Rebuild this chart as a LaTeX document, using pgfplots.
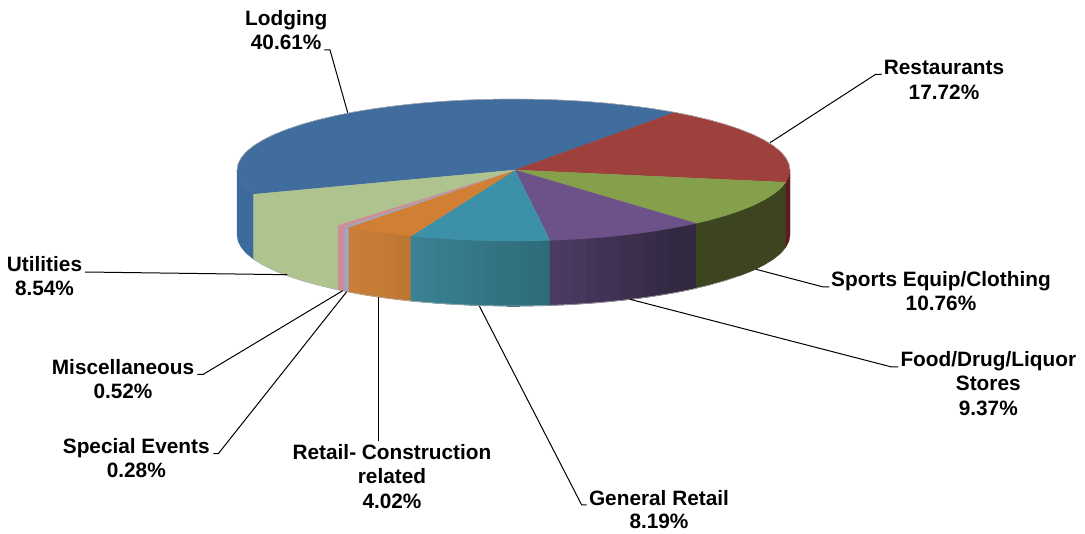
\documentclass[border=0pt]{standalone}
\usepackage{pgfplots}
\pgfplotsset{compat=1.18}
\usepackage{fontspec}
\setmainfont{Liberation Sans}
\definecolor{lodg}{HTML}{416C9E}
\definecolor{lodgs}{HTML}{3C6A9C}
\definecolor{rest}{HTML}{9E413C}
\definecolor{rests}{HTML}{5E1C1C}
\definecolor{spor}{HTML}{84A04A}
\definecolor{spors}{HTML}{3C4520}
\definecolor{food}{HTML}{6D5189}
\definecolor{foodL}{HTML}{4B3B62}
\definecolor{foodR}{HTML}{332842}
\definecolor{genr}{HTML}{3C90A8}
\definecolor{genL}{HTML}{3A8193}
\definecolor{genR}{HTML}{2D6B79}
\definecolor{reta}{HTML}{D27F36}
\definecolor{retL}{HTML}{C97D38}
\definecolor{retR}{HTML}{BC7733}
\definecolor{spec}{HTML}{9BA7C7}
\definecolor{misc}{HTML}{CC8E94}
\definecolor{util}{HTML}{AEC38E}
\newcommand{\lab}[3]{\node[anchor=base,inner sep=0pt,font=\fontsize{20.8}{24}\selectfont\bfseries,text=black] at (axis cs:#1,#2) {#3};}
% one strip of a side wall: colour, x1, top y1, x2, top y2, bottom y2, bottom y1
\newcommand{\wall}[7]{\addplot[fill=#1,draw=#1,line width=0.8pt] coordinates {(#2,#3)(#4,#5)(#4,#6)(#2,#7)(#2,#3)};}
\begin{document}
\begin{tikzpicture}
\begin{axis}[width=1085pt,height=534pt,scale only axis,hide axis,
  xmin=0,xmax=1085,ymin=0,ymax=534,y dir=reverse,clip=false,no markers]
% page frame: the hidden axis box does not count for the bounding box
\path (axis cs:0,0) rectangle (axis cs:1085,534);
% --- side walls
\addplot[fill=lodgs,draw=lodgs,line width=0.3pt] coordinates {(237,170)(238.1,176.2)(241.2,182.3)(246.4,188.4)(253.7,194.3)(253.7,259.3)(246.4,253.4)(241.2,247.3)(238.1,241.2)(237,235)(237,170)};
\addplot[fill=util,draw=util,line width=0.3pt] coordinates {(253.7,194.3)(262.9,200)(274,205.5)(287,210.7)(301.7,215.6)(318,220.2)(335.8,224.4)(338,224.9)(338,289.9)(335.8,289.4)(318,285.2)(301.7,280.6)(287,275.7)(274,270.5)(262.9,265)(253.7,259.3)(253.7,194.3)};
\addplot[fill=misc,draw=misc,line width=0.3pt] coordinates {(338,224.9)(345,226.2)(345,291.2)(338,289.9)(338,224.9)};
\addplot[fill=spec,draw=spec,line width=0.3pt] coordinates {(345,226.2)(349,227)(349,292)(345,291.2)(345,226.2)};
% orange
\wall{retL}{349}{227}{361}{229.3}{294.3}{292}
\wall{retL!80!retR}{361}{229.3}{373}{231.2}{296.2}{294.3}
\wall{retL!60!retR}{373}{231.2}{385}{232.9}{297.9}{296.2}
\wall{retL!40!retR}{385}{232.9}{397}{234.4}{299.4}{297.9}
\wall{retR}{397}{234.4}{411}{236}{301}{299.4}
% teal
\wall{genL}{411}{236}{423}{237.1}{302.1}{301}
\wall{genL!91!genR}{423}{237.1}{435}{238.1}{303.1}{302.1}
\wall{genL!82!genR}{435}{238.1}{447}{238.9}{303.9}{303.1}
\wall{genL!73!genR}{447}{238.9}{459}{239.6}{304.6}{303.9}
\wall{genL!64!genR}{459}{239.6}{471}{240.2}{305.2}{304.6}
\wall{genL!55!genR}{471}{240.2}{483}{240.6}{305.6}{305.2}
\wall{genL!45!genR}{483}{240.6}{495}{240.8}{305.8}{305.6}
\wall{genL!36!genR}{495}{240.8}{507}{241}{306}{305.8}
\wall{genL!27!genR}{507}{241}{519}{241}{306}{306}
\wall{genL!18!genR}{519}{241}{531}{240.9}{305.9}{306}
\wall{genL!9!genR}{531}{240.9}{543}{240.6}{305.6}{305.9}
\wall{genR}{543}{240.6}{550}{240.3}{305.3}{305.6}
% purple
\wall{foodL}{550}{240.3}{562}{239.9}{304.9}{305.3}
\wall{foodL!90!foodR}{562}{239.9}{574}{239.3}{304.3}{304.9}
\wall{foodL!80!foodR}{574}{239.3}{586}{238.5}{303.5}{304.3}
\wall{foodL!70!foodR}{586}{238.5}{598}{237.6}{302.6}{303.5}
\wall{foodL!60!foodR}{598}{237.6}{610}{236.5}{301.5}{302.6}
\wall{foodL!50!foodR}{610}{236.5}{622}{235.3}{300.3}{301.5}
\wall{foodL!40!foodR}{622}{235.3}{634}{233.9}{298.9}{300.3}
\wall{foodL!30!foodR}{634}{233.9}{646}{232.3}{297.3}{298.9}
\wall{foodL!20!foodR}{646}{232.3}{658}{230.5}{295.5}{297.3}
\wall{foodL!10!foodR}{658}{230.5}{670}{228.5}{293.5}{295.5}
\wall{foodR}{670}{228.5}{682}{226.3}{291.3}{293.5}
\wall{foodR}{682}{226.3}{696}{223.3}{288.3}{291.3}
% olive
\addplot[fill=spors,draw=spors,line width=0.3pt] coordinates {(696,223.3)(709,220.2)(725.3,215.6)(740,210.7)(753,205.5)(764.1,200)(773.3,194.3)(780.6,188.4)(785.8,182.3)(785.8,247.3)(780.6,253.4)(773.3,259.3)(764.1,265)(753,270.5)(740,275.7)(725.3,280.6)(709,285.2)(696,288.3)(696,223.3)};
% dark red
\addplot[fill=rests,draw=rests,line width=0.3pt] coordinates {(785.8,182.3)(788.9,176.2)(790,170)(790,235)(788.9,241.2)(785.8,247.3)(785.8,182.3)};
% --- top faces
\addplot[fill=lodg,draw=lodg,line width=0.3pt] coordinates {(515,170)(253.7,194.3)(246.4,188.4)(241.2,182.3)(238.1,176.2)(237,170)(238.1,163.8)(241.2,157.7)(246.4,151.6)(253.7,145.7)(262.9,140)(274,134.5)(287,129.3)(301.7,124.4)(318,119.8)(335.8,115.6)(354.9,111.8)(375.25,108.5)(396.6,105.7)(418.9,103.3)(441.9,101.4)(465.5,100.1)(489.4,99.3)(513.5,99)(537.6,99.3)(561.5,100.1)(585.1,101.4)(608.1,103.3)(630.4,105.7)(651.75,108.5)(675,112.4)(515,170)};
\addplot[fill=rest,draw=rest,line width=0.3pt] coordinates {(515,170)(675,112.4)(691.2,115.6)(709,119.8)(725.3,124.4)(740,129.3)(753,134.5)(764.1,140)(773.3,145.7)(780.6,151.6)(785.8,157.7)(788.9,163.8)(790,170)(788.9,176.2)(785.8,182.3)(515,170)};
\addplot[fill=spor,draw=spor,line width=0.3pt] coordinates {(515,170)(785.8,182.3)(780.6,188.4)(773.3,194.3)(764.1,200)(753,205.5)(740,210.7)(725.3,215.6)(709,220.2)(696,223.3)(515,170)};
\addplot[fill=food,draw=food,line width=0.3pt] coordinates {(515,170)(696,223.3)(691.2,224.4)(672.1,228.2)(651.75,231.5)(630.4,234.3)(608.1,236.7)(585.1,238.6)(561.5,239.9)(550,240.3)(515,170)};
\addplot[fill=genr,draw=genr,line width=0.3pt] coordinates {(515,170)(550,240.3)(537.6,240.7)(513.5,241)(489.4,240.7)(465.5,239.9)(441.9,238.6)(418.9,236.7)(411,236)(515,170)};
\addplot[fill=reta,draw=reta,line width=0.3pt] coordinates {(515,170)(411,236)(396.6,234.3)(375.25,231.5)(354.9,228.2)(349,227)(515,170)};
\addplot[fill=spec,draw=spec,line width=0.3pt] coordinates {(515,170)(349,227)(345,226.2)(515,170)};
\addplot[fill=misc,draw=misc,line width=0.3pt] coordinates {(515,170)(345,226.2)(338,224.9)(515,170)};
\addplot[fill=util,draw=util,line width=0.3pt] coordinates {(515,170)(338,224.9)(335.8,224.4)(318,220.2)(301.7,215.6)(287,210.7)(274,205.5)(262.9,200)(253.7,194.3)(515,170)};
% --- soft outline
\addplot[draw=black!30,line width=0.5pt] coordinates {(237,170)(238.1,163.8)(241.2,157.7)(246.4,151.6)(253.7,145.7)(262.9,140)(274,134.5)(287,129.3)(301.7,124.4)(318,119.8)(335.8,115.6)(354.9,111.8)(375.25,108.5)(396.6,105.7)(418.9,103.3)(441.9,101.4)(465.5,100.1)(489.4,99.3)(513.5,99)(537.6,99.3)(561.5,100.1)(585.1,101.4)(608.1,103.3)(630.4,105.7)(651.75,108.5)(672.1,111.8)(691.2,115.6)(709,119.8)(725.3,124.4)(740,129.3)(753,134.5)(764.1,140)(773.3,145.7)(780.6,151.6)(785.8,157.7)(788.9,163.8)(790,170)};
\addplot[draw=black!30,line width=0.5pt] coordinates {(253.7,259.3)(262.9,265)(274,270.5)(287,275.7)(301.7,280.6)(318,285.2)(335.8,289.4)(354.9,293.2)(375.25,296.5)(396.6,299.3)(418.9,301.7)(441.9,303.6)(465.5,304.9)(489.4,305.7)(513.5,306)(537.6,305.7)(561.5,304.9)(585.1,303.6)(608.1,301.7)(630.4,299.3)(651.75,296.5)(672.1,293.2)(691.2,289.4)(709,285.2)(725.3,280.6)(740,275.7)};
% --- leader lines
\addplot[black,line width=1pt] coordinates {(324.3,50)(330,50)(347.7,112.7)};
\addplot[black,line width=1pt] coordinates {(881.7,74.3)(875.7,74.3)(770,142.7)};
\addplot[black,line width=1pt] coordinates {(829.3,287)(823.3,287)(756,269.3)};
\addplot[black,line width=1pt] coordinates {(898.3,367)(891.7,367)(630,299.3)};
\addplot[black,line width=1pt] coordinates {(586.7,505)(581.7,505)(479.3,306)};
\addplot[black,line width=1pt] coordinates {(378.7,440.7)(378.7,296.7)};
\addplot[black,line width=1pt] coordinates {(213.3,453.7)(218.3,453.7)(346.7,291.7)};
\addplot[black,line width=1pt] coordinates {(197.3,374.3)(203.3,374.3)(342.7,290.7)};
\addplot[black,line width=1pt] coordinates {(85,272)(287.3,274.7)};
% --- labels
\lab{286.2}{26}{Lodging}
\lab{286.2}{50}{40.61\%}
\lab{944}{75}{Restaurants}
\lab{944}{99.3}{17.72\%}
\lab{941}{286.7}{Sports Equip/Clothing}
\lab{941}{311}{10.76\%}
\lab{988.3}{366.7}{Food/Drug/Liquor}
\lab{988.3}{391}{Stores}
\lab{988.3}{415.7}{9.37\%}
\lab{659}{505}{General Retail}
\lab{659}{529}{8.19\%}
\lab{392}{460}{Retail- Construction}
\lab{392}{484}{related}
\lab{392}{509}{4.02\%}
\lab{136.3}{453.3}{Special Events}
\lab{136.3}{477.7}{0.28\%}
\lab{123}{374.3}{Miscellaneous}
\lab{123}{399}{0.52\%}
\lab{44.5}{271.7}{Utilities}
\lab{44.5}{296}{8.54\%}
\end{axis}
\end{tikzpicture}
\end{document}
